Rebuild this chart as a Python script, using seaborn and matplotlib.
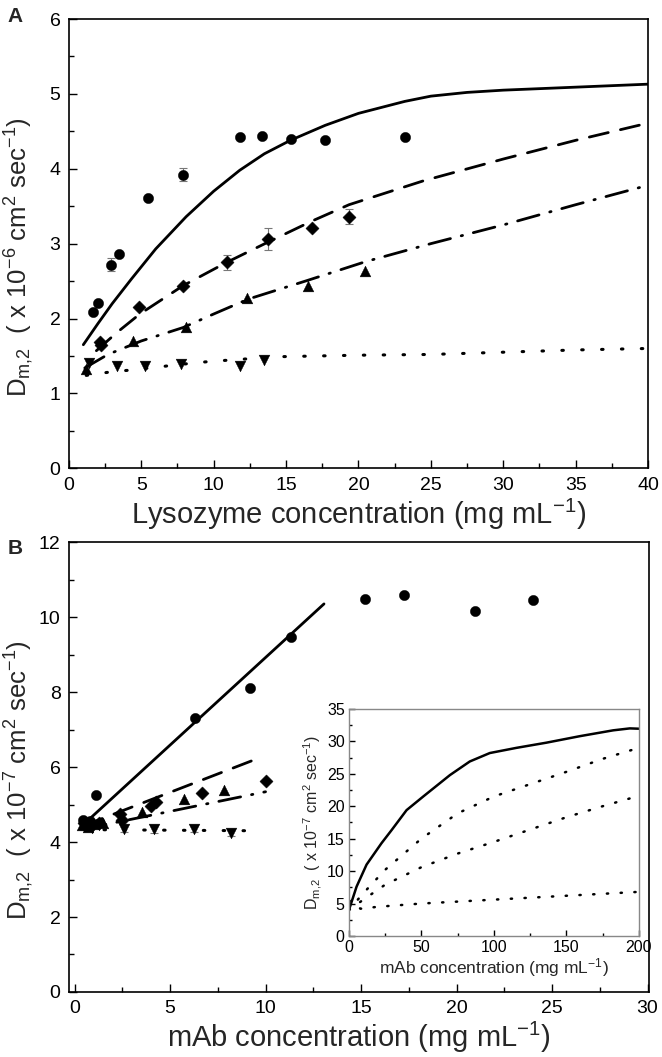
"""Dm,2 vs concentration: lysozyme (A) and mAb (B) with model lines"""
import matplotlib
matplotlib.use('Agg')
import matplotlib.pyplot as plt
import seaborn as sns
import numpy as np
import pandas as pd
from matplotlib.ticker import MultipleLocator

sns.set_theme(style='white')
plt.rcParams['font.family'] = ['Liberation Sans', 'DejaVu Sans']
plt.rcParams['mathtext.default'] = 'regular'

# ---------------- Panel A : lysozyme ----------------
lys_circ_x = [1.68, 1.98, 2.90, 3.46, 5.45, 7.86, 11.79, 13.34, 15.31, 17.68, 23.2]
lys_circ_y = [2.09, 2.21, 2.72, 2.86, 3.61, 3.92, 4.43, 4.44, 4.40, 4.38, 4.42]
lys_circ_err = [0, 0, 0.09, 0, 0, 0.09, 0, 0, 0, 0, 0]

lys_dia_x = [2.14, 2.20, 4.86, 7.89, 10.94, 13.75, 16.77, 19.35]
lys_dia_y = [1.68, 1.64, 2.16, 2.44, 2.75, 3.06, 3.21, 3.36]
lys_dia_err = [0, 0, 0, 0, 0.1, 0.15, 0, 0.1]

lys_up_x = [1.17, 4.44, 8.06, 12.3, 16.5, 20.47]
lys_up_y = [1.32, 1.70, 1.88, 2.27, 2.44, 2.63]

lys_dn_x = [1.4, 3.3, 5.25, 7.74, 11.8, 13.5]
lys_dn_y = [1.41, 1.37, 1.36, 1.39, 1.36, 1.44]

fit_a_solid_x = [1.0, 2.0, 3.0, 4.33, 6.0, 8.1, 10.0, 11.8, 13.5, 15.3, 17.7, 20.0, 23.2, 25.0, 27.5, 30.0, 35.0, 40.0]
fit_a_solid_y = [1.65, 1.93, 2.20, 2.53, 2.93, 3.36, 3.70, 3.98, 4.20, 4.38, 4.58, 4.74, 4.90, 4.97, 5.02, 5.05, 5.09, 5.13]

fit_a_dash_x = [1.9, 3.3, 4.9, 7.9, 10.9, 13.75, 16.77, 19.35, 24.5, 30.0, 35.0, 40.0]
fit_a_dash_y = [1.57, 1.81, 2.06, 2.44, 2.75, 3.02, 3.30, 3.52, 3.84, 4.13, 4.38, 4.61]

fit_a_dashdot_x = [1.1, 2.7, 5.0, 7.9, 10.0, 12.4, 16.5, 20.5, 25.0, 30.0, 35.0, 40.0]
fit_a_dashdot_y = [1.34, 1.52, 1.70, 1.88, 2.06, 2.26, 2.51, 2.76, 3.00, 3.25, 3.52, 3.78]

fit_a_dot_x = [1.2, 3.0, 4.2, 6.5, 8.8, 10.0, 14.5, 20.0, 25.0, 30.0, 35.0, 40.0]
fit_a_dot_y = [1.24, 1.29, 1.31, 1.36, 1.41, 1.43, 1.49, 1.51, 1.52, 1.55, 1.58, 1.60]

# ---------------- Panel B : mAb ----------------
mab_circ_x = [0.45, 0.8, 1.13, 6.3, 9.21, 11.34, 15.19, 17.25, 20.97, 24.0]
mab_circ_y = [4.60, 4.55, 5.25, 7.30, 8.12, 9.47, 10.48, 10.60, 10.15, 10.45]

mab_dia_x = [0.5, 0.9, 1.3, 2.4, 2.5, 4.0, 4.24, 6.68, 10.0]
mab_dia_y = [4.50, 4.45, 4.52, 4.76, 4.60, 4.95, 5.07, 5.31, 5.63]

mab_up_x = [0.4, 0.7, 1.0, 1.5, 3.54, 5.72, 7.82]
mab_up_y = [4.45, 4.40, 4.48, 4.50, 4.81, 5.14, 5.39]

mab_dn_x = [0.5, 0.9, 1.3, 2.58, 4.15, 6.25, 8.17]
mab_dn_y = [4.42, 4.38, 4.45, 4.36, 4.34, 4.36, 4.23]
mab_dn_err = [0.1, 0, 0, 0.1, 0.1, 0.08, 0.08]

fit_b_solid_x = [0.58, 13.06]
fit_b_solid_y = [4.52, 10.35]
fit_b_dash_x = [0.5, 3.3, 9.3]
fit_b_dash_y = [4.44, 4.99, 6.17]
fit_b_dashdot_x = [0.5, 4.07, 10.0]
fit_b_dashdot_y = [4.35, 4.72, 5.34]
fit_b_dot_x = [0.5, 9.4]
fit_b_dot_y = [4.33, 4.30]

# inset: model curves up to 200 mg/mL
ins_solid_x = [0, 5.3, 12.2, 22.5, 29.4, 39.8, 51.3, 69.7, 83.4, 97.2, 115.6, 136.3, 159.3, 182.3, 193.8, 200]
ins_solid_y = [3.97, 7.6, 11.0, 14.3, 16.3, 19.4, 21.5, 24.8, 26.9, 28.2, 29.0, 29.8, 30.8, 31.7, 32.0, 31.95]
ins_dot1_x = [0, 10, 25, 50, 75, 100, 125, 150, 175, 200]
ins_dot1_y = [4.0, 6.6, 10.2, 15.0, 18.9, 21.5, 23.4, 25.3, 27.3, 29.0]
ins_dot2_x = [0, 10, 25, 50, 75, 100, 125, 150, 175, 200]
ins_dot2_y = [4.0, 5.6, 7.9, 10.6, 12.7, 14.5, 16.4, 18.3, 20.0, 21.6]
ins_dot3_x = [0, 8, 20, 50, 100, 150, 200]
ins_dot3_y = [5.5, 4.2, 4.5, 5.0, 5.6, 6.2, 6.8]

DASH = (0, (7, 4.5))
DASHDOT = (0, (8, 4, 0.5, 4))
DOT = (0, (0.5, 6))

YLAB6 = 'D$_{m{,}2}$  ( x 10$^{-6}$ cm$^{2}$ sec$^{-1}$)'
YLAB7 = 'D$_{m{,}2}$  ( x 10$^{-7}$ cm$^{2}$ sec$^{-1}$)'


def style_axes(ax, major_len=6, minor_len=3.5, size=14, pad=6):
    for s in ['left', 'bottom', 'top', 'right']:
        ax.spines[s].set_visible(True)
        ax.spines[s].set_color('black')
        ax.spines[s].set_linewidth(1.2)
    ax.tick_params(which='both', direction='in', left=True, bottom=True,
                   top=False, right=False, colors='black')
    ax.tick_params(which='major', length=major_len, width=1.0, labelsize=size, pad=pad)
    ax.tick_params(which='minor', length=minor_len, width=1.0)
    ax.grid(False)


def draw_line(ax, x, y, ls, lw=2.0):
    sns.lineplot(x=x, y=y, ax=ax, color='black', linestyle=ls, linewidth=lw,
                 sort=False, estimator=None, dash_capstyle='round')


def draw_pts(ax, x, y, marker, s):
    sns.scatterplot(x=x, y=y, ax=ax, marker=marker, s=s, color='black',
                    edgecolor='black', linewidth=0.3, zorder=4)


fig = plt.figure(figsize=(6.62, 10.57), dpi=100)

# ===== A =====
axA = fig.add_axes([0.104, 0.557, 0.875, 0.425])
axA.errorbar(lys_circ_x, lys_circ_y, yerr=lys_circ_err, fmt='none', ecolor='#777777',
             elinewidth=0.8, capsize=3, capthick=0.8, zorder=3)
axA.errorbar(lys_dia_x, lys_dia_y, yerr=lys_dia_err, fmt='none', ecolor='#777777',
             elinewidth=0.8, capsize=3, capthick=0.8, zorder=3)
draw_line(axA, fit_a_solid_x, fit_a_solid_y, '-')
draw_line(axA, fit_a_dash_x, fit_a_dash_y, DASH)
draw_line(axA, fit_a_dashdot_x, fit_a_dashdot_y, DASHDOT)
draw_line(axA, fit_a_dot_x, fit_a_dot_y, DOT, lw=2.2)
draw_pts(axA, lys_circ_x, lys_circ_y, 'o', 55)
draw_pts(axA, lys_dia_x, lys_dia_y, 'D', 45)
draw_pts(axA, lys_up_x, lys_up_y, '^', 60)
draw_pts(axA, lys_dn_x, lys_dn_y, 'v', 60)
axA.set_xlim(0, 40)
axA.set_ylim(0, 6)
axA.xaxis.set_major_locator(MultipleLocator(5))
axA.xaxis.set_minor_locator(MultipleLocator(2.5))
axA.yaxis.set_major_locator(MultipleLocator(1))
axA.yaxis.set_minor_locator(MultipleLocator(0.5))
style_axes(axA)
axA.set_xlabel('Lysozyme concentration (mg mL$^{-1}$)', fontsize=21, labelpad=2)
axA.set_ylabel(YLAB6, fontsize=18.5)
axA.yaxis.set_label_coords(-0.056, 0.47)
fig.text(0.012, 0.993, 'A', fontsize=15, fontweight='bold', va='top', ha='left')

# ===== B =====
axB = fig.add_axes([0.104, 0.0615, 0.877, 0.4257])
axB.errorbar(mab_dn_x, mab_dn_y, yerr=mab_dn_err, fmt='none', ecolor='#777777',
             elinewidth=0.8, capsize=3, capthick=0.8, zorder=3)
draw_line(axB, fit_b_solid_x, fit_b_solid_y, '-')
draw_line(axB, fit_b_dash_x, fit_b_dash_y, DASH)
draw_line(axB, fit_b_dashdot_x, fit_b_dashdot_y, DASHDOT)
draw_line(axB, fit_b_dot_x, fit_b_dot_y, DOT, lw=2.2)
draw_pts(axB, mab_circ_x, mab_circ_y, 'o', 55)
draw_pts(axB, mab_dia_x, mab_dia_y, 'D', 45)
draw_pts(axB, mab_up_x, mab_up_y, '^', 60)
draw_pts(axB, mab_dn_x, mab_dn_y, 'v', 60)
axB.set_xlim(-0.3, 30.1)
axB.set_ylim(0, 12)
axB.xaxis.set_major_locator(MultipleLocator(5))
axB.xaxis.set_minor_locator(MultipleLocator(2.5))
axB.yaxis.set_major_locator(MultipleLocator(2))
axB.yaxis.set_minor_locator(MultipleLocator(1))
style_axes(axB)
axB.set_xlabel('mAb concentration (mg mL$^{-1}$)', fontsize=21, labelpad=2)
axB.set_ylabel(YLAB7, fontsize=18.5)
axB.yaxis.set_label_coords(-0.056, 0.47)
fig.text(0.012, 0.49, 'B', fontsize=15, fontweight='bold', va='top', ha='left')

# ===== inset =====
axI = fig.add_axes([0.527, 0.1145, 0.438, 0.2148])
draw_line(axI, ins_solid_x, ins_solid_y, '-', lw=1.8)
draw_line(axI, ins_dot1_x, ins_dot1_y, (0, (0.5, 5)), lw=1.8)
draw_line(axI, ins_dot2_x, ins_dot2_y, (0, (0.5, 5)), lw=1.8)
draw_line(axI, ins_dot3_x, ins_dot3_y, (0, (0.5, 5)), lw=1.8)
axI.set_xlim(0, 200)
axI.set_ylim(0, 35)
axI.xaxis.set_major_locator(MultipleLocator(50))
axI.xaxis.set_minor_locator(MultipleLocator(25))
axI.yaxis.set_major_locator(MultipleLocator(5))
axI.yaxis.set_minor_locator(MultipleLocator(2.5))
style_axes(axI, major_len=4, minor_len=2.5, size=11.5, pad=3)
for s in axI.spines.values():
    s.set_color('#888888')
    s.set_linewidth(1.0)
axI.set_xlabel('mAb concentration (mg mL$^{-1}$)', fontsize=12.5, labelpad=1)
axI.set_ylabel(YLAB7, fontsize=11.5, labelpad=2)

fig.savefig('out.png', dpi=100)
